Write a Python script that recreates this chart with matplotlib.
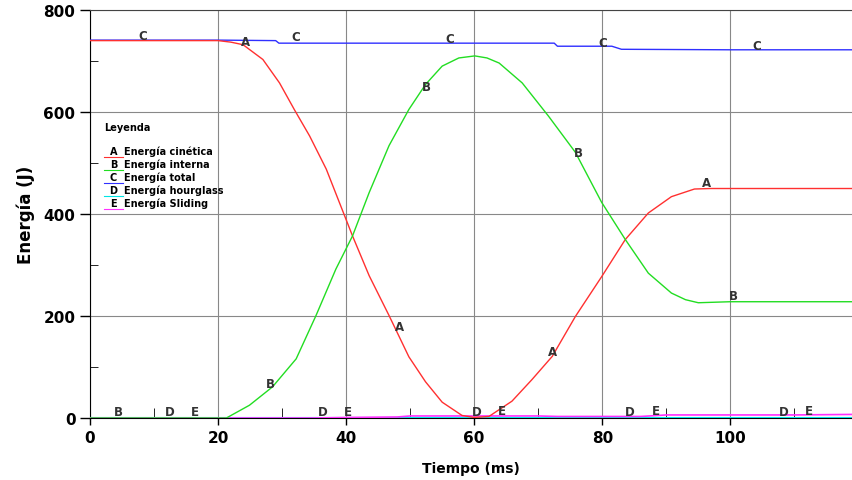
import numpy as np
import matplotlib.pyplot as plt

# tiempo (ms) y energías (J)
t_a = [0, 20, 22, 23.9, 27.0, 29.6, 31.9, 34.3, 36.9, 41.0, 43.6, 46.7, 49.8, 52.4, 55.0, 58.1, 60, 62.3,
       65.9, 69.0, 72.2, 75.8, 79.9, 83.6, 87.2, 90.8, 94.4, 97, 100, 110, 119]
e_a = [740, 740, 737, 732, 703, 657, 605, 553, 488, 357, 279, 201, 120, 71, 31, 5, 1, 3,
       33, 75, 121, 199, 277, 350, 402, 434, 449, 450, 450, 450, 450]

t_b = [0, 20, 21.3, 24.9, 28.5, 32.2, 35.3, 38.4, 41.0, 43.6, 46.7, 49.8, 52.4, 55.0, 57.6, 60.1,
       62.0, 63.9, 67.5, 71.6, 75.8, 79.9, 83.6, 87.2, 90.8, 93.0, 95.0, 100, 110, 119]
e_b = [0, 0, 0, 25, 61, 116, 201, 292, 357, 442, 534, 605, 654, 690, 706, 710,
       706, 696, 657, 592, 521, 423, 350, 284, 245, 232, 226, 228, 228, 228]

t_c = [0, 20, 29, 29.5, 72.5, 73, 81.5, 83, 100, 119]
e_c = [741, 741, 740, 735, 735, 729, 729, 723, 722, 722]

t_d = [0, 35, 60, 90, 119]
e_d = [0, 0, 0, 0, 0]

t_e = [0, 35, 40, 48, 50, 70, 73, 86, 90, 110, 119]
e_e = [0, 0, 1, 2, 4, 4, 3, 3, 6, 6, 7]

# posiciones de las letras sobre las curvas
lab_a = ([24.3, 48.3, 72.3, 96.3], [738, 180, 131, 462])
lab_b = ([4.5, 28.2, 52.5, 76.3, 100.5], [12, 67, 650, 520, 240])
lab_c = ([8.3, 32.2, 56.2, 80.1, 104.2], [750, 748, 745, 736, 731])
lab_d = ([12.5, 36.3, 60.4, 84.3, 108.3], [12, 12, 12, 12, 12])
lab_e = ([16.4, 40.3, 64.3, 88.3, 112.3], [12, 12, 15, 15, 15])

col_a = '#ff3030'
col_b = '#22dd22'
col_c = '#3030ff'
col_d = '#00e5e5'
col_e = '#ff30ff'

fig = plt.figure(figsize=(8.53, 4.81), dpi=100)
ax = fig.add_axes([0.1055, 0.1289, 0.8933, 0.8482])

ax.plot(t_d, e_d, color=col_d, lw=1.5, zorder=3)
ax.plot(t_e, e_e, color=col_e, lw=1.2, zorder=3)
ax.plot(t_c, e_c, color=col_c, lw=1.0, zorder=3)
ax.plot(t_a, e_a, color=col_a, lw=1.0, zorder=3)
ax.plot(t_b, e_b, color=col_b, lw=1.0, zorder=3)

for letra, (xs, ys) in zip('ABCDE', [lab_a, lab_b, lab_c, lab_d, lab_e]):
    for xx, yy in zip(xs, ys):
        ax.text(xx, yy, letra, fontsize=8.5, fontweight='bold', color='#333333',
                ha='center', va='center', zorder=4)

ax.set_xlim(0, 119)
ax.set_ylim(0, 800)
ax.set_xticks([0, 20, 40, 60, 80, 100])
ax.set_yticks([0, 200, 400, 600, 800])
ax.set_xticks(np.arange(10, 119, 20), minor=True)
ax.set_yticks([100, 300, 500, 700], minor=True)
ax.tick_params(axis='both', labelsize=11, width=1)
for lab in ax.get_xticklabels() + ax.get_yticklabels():
    lab.set_fontweight('bold')
ax.tick_params(axis='y', which='major', direction='out', length=7)
ax.tick_params(axis='y', which='minor', direction='in', length=6)
ax.tick_params(axis='x', which='major', direction='out', length=5)
ax.tick_params(axis='x', which='minor', direction='in', length=7)
ax.grid(True, which='major', color='#888888', lw=0.8)
ax.spines['right'].set_visible(False)
ax.spines['top'].set_color('#444444')

ax.set_xlabel('Tiempo (ms)', fontsize=10, fontweight='bold', labelpad=12)
ax.set_ylabel('Energía (J)', fontsize=12, fontweight='bold', labelpad=6)

# leyenda dibujada a mano
fig.text(104 / 853, 1 - 128 / 481, 'Leyenda', fontsize=7, fontweight='bold', va='center')
nombres = ['Energía cinética', 'Energía interna', 'Energía total', 'Energía hourglass', 'Energía Sliding']
colores = [col_a, col_b, col_c, col_d, col_e]
for i, (letra, nom, c) in enumerate(zip('ABCDE', nombres, colores)):
    yp = 1 - (152 + 13 * i) / 481
    fig.text(113.5 / 853, yp, letra, fontsize=7, fontweight='bold', ha='center', va='center')
    fig.text(124 / 853, yp, nom, fontsize=7, fontweight='bold', va='center')
    fig.add_artist(plt.Line2D([104 / 853, 123 / 853], [yp - 6 / 481, yp - 6 / 481], color=c, lw=0.8,
                              transform=fig.transFigure))

fig.savefig('out.png', dpi=100)
